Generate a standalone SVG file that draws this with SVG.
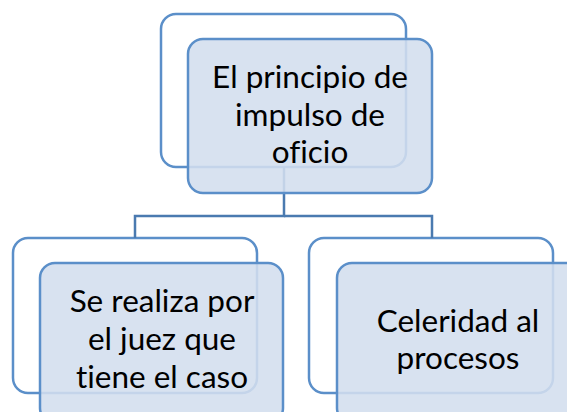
<svg xmlns="http://www.w3.org/2000/svg" width="567" height="412" viewBox="0 0 567 412">
<style>
.back{fill:#ffffff;stroke:#5b8fc9;stroke-width:2.5}
.front{fill:#d3deee;fill-opacity:0.88;stroke:#5b8fc9;stroke-width:2.5}
.t{font-family:Lato,"Open Sans","Liberation Sans",sans-serif;font-size:31.5px;fill:#000;text-anchor:middle;font-variant-ligatures:none}
.c{fill:none;stroke:#4a7ab0;stroke-width:2.5}
</style>
<rect width="567" height="412" fill="#ffffff"/>
<g id="back-nodes">
<rect class="back" x="161" y="14" width="245" height="153" rx="15"/>
<rect class="back" x="13" y="238" width="244" height="155" rx="15"/>
<rect class="back" x="309" y="238" width="244" height="155" rx="15"/>
</g>
<g id="connectors">
<polyline class="c" points="284,167 284,216 135,216 135,238"/>
<polyline class="c" points="284,216 432,216 432,238"/>
</g>
<g id="node-top">
<rect class="front" x="188" y="39" width="244" height="154" rx="15"/>
<text class="t" x="310" y="88">El principio de</text>
<text class="t" x="310" y="126">impulso de</text>
<text class="t" x="310" y="163">oficio</text>
</g>
<g id="node-left">
<rect class="front" x="40" y="263" width="243" height="160" rx="15"/>
<text class="t" x="162" y="312">Se realiza por</text>
<text class="t" x="162" y="350">el juez que</text>
<text class="t" x="162" y="388">tiene el caso</text>
</g>
<g id="node-right">
<rect class="front" x="337" y="263" width="244" height="160" rx="15"/>
<text class="t" x="458" y="332">Celeridad al</text>
<text class="t" x="458" y="369">procesos</text>
</g>
</svg>
